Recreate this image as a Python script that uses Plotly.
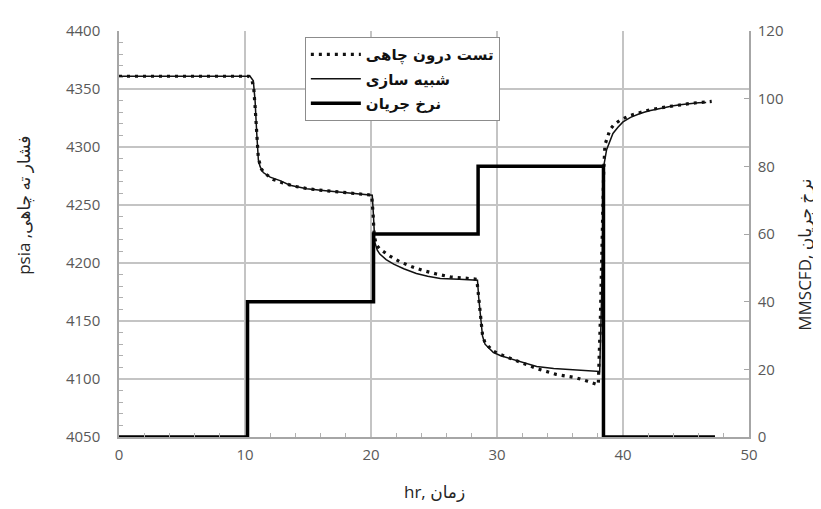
import plotly.graph_objects as go

# ---- data ----
meas_t = [0, 10.3, 10.55, 10.7, 10.8, 10.93, 11.06, 11.3, 11.6, 12.25, 13.0, 14.0, 15.0, 16.2,
          17.5, 18.9, 20.05, 20.15, 20.25, 20.4, 20.7, 21.5, 22.3, 23.2, 24.1, 25.2, 26.3, 27.4,
          28.4, 28.55, 28.7, 28.85, 29.05, 29.4, 29.7, 30.3, 31.0, 32.0, 33.15, 34.7, 36.3, 37.2,
          38.04, 38.2, 38.35, 38.47, 38.57, 38.75, 38.97, 39.3, 39.76, 40.5, 41.35, 42.1, 42.9,
          43.7, 44.5, 45.3, 46.1, 47.04]
meas_p = [4361, 4361, 4358, 4350, 4335, 4312, 4290, 4281, 4277, 4272, 4269, 4266, 4264, 4262.5,
          4261, 4260, 4258.5, 4245, 4225, 4216, 4212, 4206, 4201, 4197, 4193.6, 4190.5, 4188, 4187,
          4186, 4170, 4150, 4138, 4131, 4127, 4124, 4121, 4118, 4113.5, 4109, 4104, 4101, 4098,
          4095, 4150, 4230, 4280, 4302, 4309, 4315, 4319.5, 4323, 4327, 4330, 4332, 4333.6,
          4335, 4336.5, 4337.5, 4338.4, 4339.3]

sim_t = [0, 10.4, 10.66, 10.8, 10.93, 11.06, 11.2, 11.45, 12.0, 12.78, 13.57, 14.9, 16.2, 17.5,
         18.9, 20.1, 20.2, 20.3, 20.5, 20.7, 21.2, 21.8, 22.6, 23.6, 24.5, 25.5, 27.0, 28.45,
         28.55, 28.7, 28.85, 29.05, 29.4, 29.7, 30.3, 31.0, 32.0, 33.15, 34.5, 35.8, 37.0, 38.15,
         38.3, 38.4, 38.48, 38.7, 38.95, 39.2, 39.6, 40.0, 40.6, 41.3, 42.0, 42.7, 43.4, 44.0,
         44.7, 45.3, 46.0, 46.6]
sim_p = [4361, 4361, 4357, 4340, 4312, 4289, 4283, 4278, 4274, 4271, 4267, 4264, 4262.5, 4261,
         4260, 4258.5, 4240, 4218, 4211, 4207.7, 4203, 4199, 4195, 4191, 4188.5, 4186.6, 4186,
         4185.2, 4170, 4150, 4137, 4130, 4126, 4123, 4120, 4117.7, 4114, 4110.7, 4109, 4108,
         4107, 4106.5, 4170, 4250, 4284, 4297.7, 4305, 4311.7, 4317, 4321.6, 4325.5, 4328.6,
         4331, 4332.8, 4334.3, 4335.6, 4336.7, 4337.6, 4338.1, 4338.4]

rate_t = [0, 10.2, 20.2, 28.5, 38.45, 47.3]
rate_v = [0, 40, 60, 80, 0, 0]

name_meas = "تست درون چاهی"
name_sim = "شبیه سازی"
name_rate = "نرخ جریان"

x_title = "hr, زمان"
y_title = "psia ,فشار ته چاهی"
y2_title = "MMSCFD, نرخ جریان"

TICK_FONT = dict(family="Open Sans, DejaVu Sans", size=15, color="#595959")
TITLE_FONT = dict(family="Open Sans, DejaVu Sans", size=17, color="#262626")
GRID = "#c4c4c4"

fig = go.Figure()
fig.add_trace(go.Scatter(x=meas_t, y=meas_p, mode="lines", name=name_meas, legendgroup="a",
                         line=dict(color="#111111", width=3.2, dash="3px,5px")))
fig.add_trace(go.Scatter(x=sim_t, y=sim_p, mode="lines", name=name_sim, legendgroup="b",
                         line=dict(color="#111111", width=1.5)))
fig.add_trace(go.Scatter(x=rate_t, y=rate_v, mode="lines", name=name_rate, legendgroup="c",
                         line=dict(color="#000000", width=3.5, shape="hv"), yaxis="y2"))

# the page body adds an 8px margin, so the figure is 8px smaller and shifted
fig.update_layout(
    width=813, height=501,
    margin=dict(l=111, r=72, t=14, b=72),
    paper_bgcolor="white", plot_bgcolor="white",
    showlegend=True,
    legend=dict(x=0.295, y=0.985, xanchor="left", yanchor="top",
                bgcolor="white", bordercolor="#8c8c8c", borderwidth=1,
                font=dict(family="DejaVu Sans", size=15, color="#111111", weight="bold"),
                tracegroupgap=2, itemwidth=50),
    xaxis=dict(range=[0, 50], dtick=10, showgrid=True, gridcolor=GRID, gridwidth=1.5,
               showline=True, linecolor="#a6a6a6", linewidth=1.5, zeroline=False,
               ticks="", tickfont=TICK_FONT, ticklabelstandoff=3,
               minor=dict(dtick=2, ticks="inside", ticklen=4, tickcolor="#b0b0b0", showgrid=False)),
    yaxis=dict(range=[4050, 4400], dtick=50, showgrid=True, gridcolor=GRID, gridwidth=1.5,
               showline=True, linecolor="#a6a6a6", linewidth=1.5, zeroline=False,
               ticks="", tickfont=TICK_FONT, ticklabelstandoff=14,
               minor=dict(dtick=10, ticks="inside", ticklen=4, tickcolor="#b0b0b0", showgrid=False)),
    yaxis2=dict(range=[0, 120], dtick=20, overlaying="y", side="right", showgrid=False,
                showline=True, linecolor="#a6a6a6", linewidth=1.5, zeroline=False,
                ticks="inside", ticklen=5, tickcolor="#a6a6a6", tickfont=TICK_FONT,
                ticklabelstandoff=4),
    annotations=[
        dict(text=x_title, xref="paper", yref="paper", x=0.5, y=-0.135, xanchor="center",
             yanchor="middle", showarrow=False, font=TITLE_FONT),
        dict(text=y_title, xref="paper", yref="paper", x=-0.152, y=0.57, xanchor="center",
             yanchor="middle", textangle=-90, showarrow=False, font=TITLE_FONT),
        dict(text=y2_title, xref="paper", yref="paper", x=1.088, y=0.45, xanchor="center",
             yanchor="middle", textangle=-90, showarrow=False, font=TITLE_FONT),
    ],
)

fig.write_html("out.html")
